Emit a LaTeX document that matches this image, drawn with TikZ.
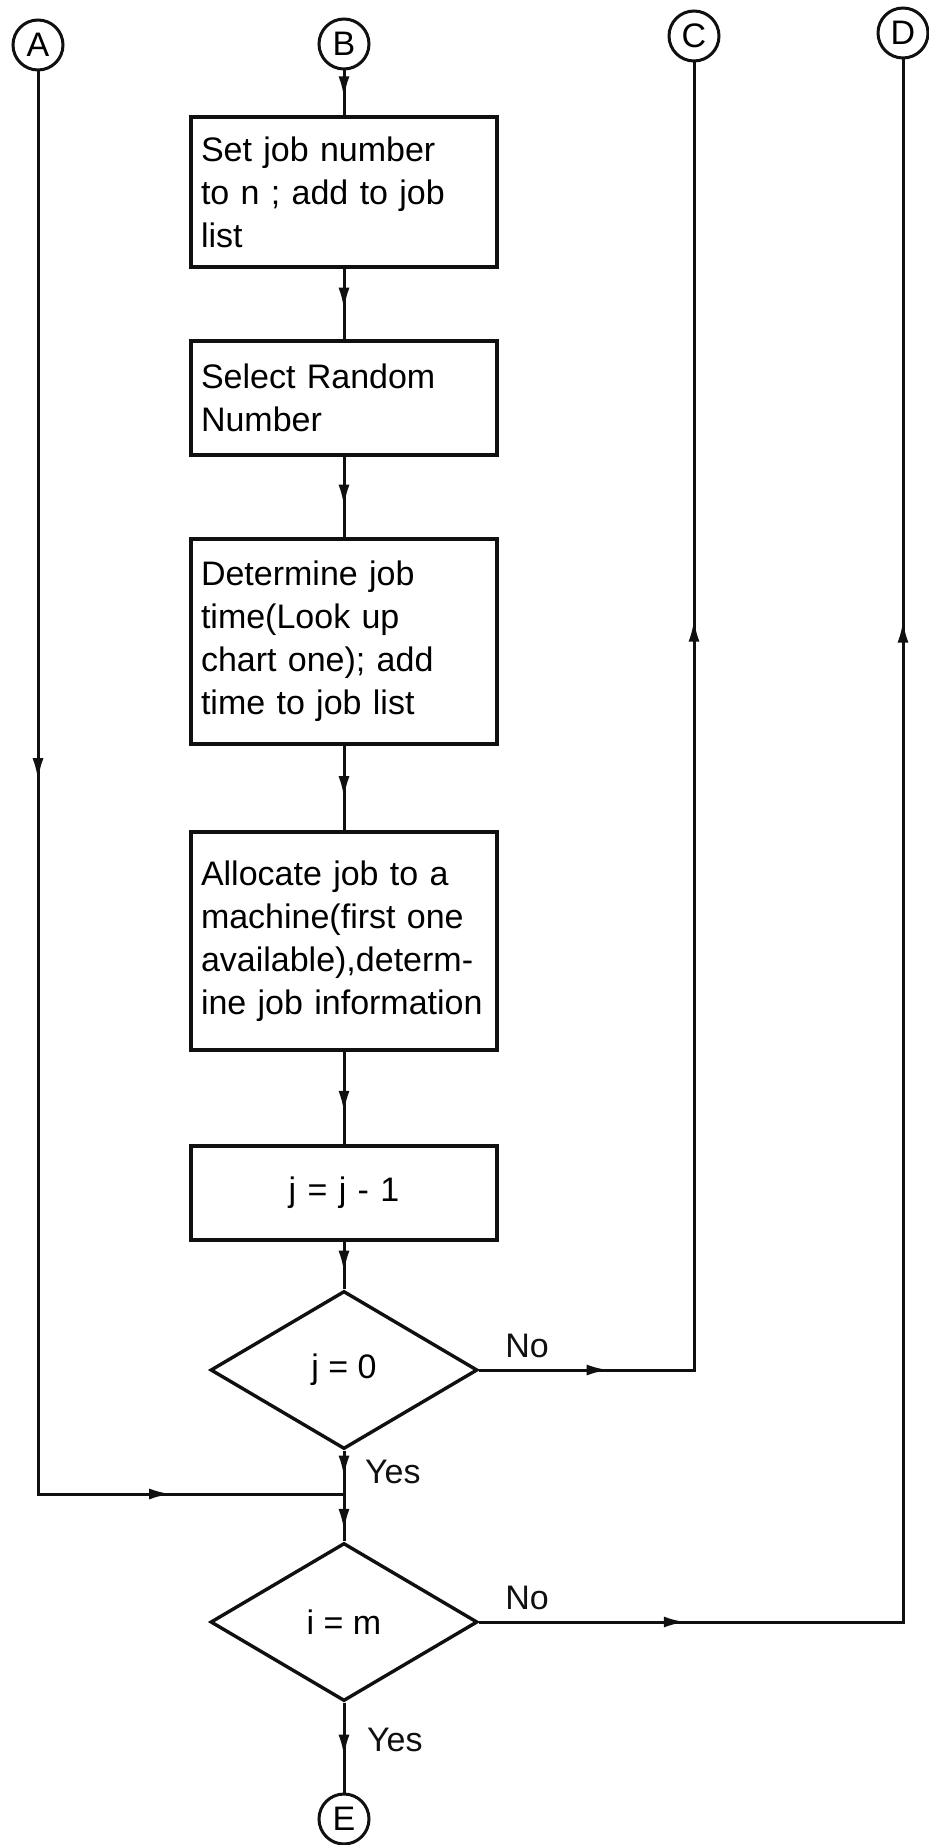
\documentclass[tikz,border=0pt]{standalone}
\usepackage{fontspec}
\setmainfont{Liberation Sans}
\usetikzlibrary{positioning,arrows.meta,shapes.geometric,decorations.markings}
\hyphenpenalty=10000
\definecolor{inkBlack}{HTML}{101010}
\tikzset{
    stepbox/.style={draw=inkBlack,line width=1.7pt,fill=white,inner xsep=5pt,
        text width=143pt,minimum width=153pt,align=left,
        font=\fontsize{17}{21.5}\selectfont},
    decision/.style={diamond,draw=inkBlack,line width=1.7pt,fill=white,inner sep=0pt,
        minimum width=133.5pt,minimum height=79pt,font=\fontsize{17}{20}\selectfont},
    connector/.style={circle,draw=inkBlack,line width=1.5pt,inner sep=0pt,
        minimum size=25pt,font=\fontsize{17}{20}\selectfont},
    flowline/.style={draw=inkBlack,line width=1.5pt},
    midarrow/.style={postaction={decorate,decoration={markings,
        mark=at position #1 with {\arrow{Latex[length=11pt,width=5.5pt]}}}}},
    branchlabel/.style={font=\fontsize{17}{20}\selectfont,text=inkBlack}
}

\begin{document}
\begin{tikzpicture}[x=0.5pt,y=-0.5pt]
        \useasboundingbox (0,0) rectangle (928,1845);
        \foreach \lbl/\x/\y in {A/38/45,B/344/44,C/694/36,D/903/33} {
            \node[connector] (\lbl) at (\x,\y) {\lbl};
        }
        \node[stepbox,minimum height=75pt] (setjob) at (344,192) {Set job number\\ to n ; add to job\\ list};
        \node[stepbox,minimum height=57pt] (random) at (344,398) {Select Random\\ Number};
        \node[stepbox,minimum height=102.5pt] (jobtime) at (344,641.5) {Determine job\\ time(Look up\\ chart one); add\\ time to job list};
        \node[stepbox,minimum height=109pt] (allocate) at (344,941) {Allocate job to a\\ machine(first one\\ available),determ-\\ ine job information};
        \node[stepbox,minimum height=47pt,align=center] (decrement) at (344,1193) {j = j - 1};
        \node[decision] (jzero) at (344,1370) {j = 0};
        \coordinate (join) at (344,1494);
        \node[decision] (imatch) at (344,1622) {i = m};
        \node[connector] (E) at (344,1819) {E};
        \node[branchlabel] (nojzero) at (527,1346) {No};
        \node[branchlabel,anchor=west] (yesjzero) at (358,1472) {Yes};
        \node[branchlabel] (noimatch) at (527,1598) {No};
        \node[branchlabel,anchor=west] (yesimatch) at (360,1740) {Yes};
        \draw[flowline,midarrow=0.62] (B) -- (setjob);
        \draw[flowline,midarrow=0.58] (setjob) -- (random);
        \draw[flowline,midarrow=0.62] (random) -- (jobtime);
        \draw[flowline,midarrow=0.62] (jobtime) -- (allocate);
        \draw[flowline,midarrow=0.66] (allocate) -- (decrement);
        \draw[flowline,midarrow=0.65] (decrement) -- (jzero);
        \draw[flowline,midarrow=0.62] (jzero) -- (join);
        \draw[flowline,midarrow=0.78] (join) -- (imatch);
        \draw[flowline,midarrow=0.6] (imatch) -- (E);
        \draw[flowline,midarrow=0.41,midarrow=0.9] (A) |- (join);
        \draw[flowline,midarrow=0.085,midarrow=0.634] (jzero) -| (C);
        \draw[flowline,midarrow=0.104,midarrow=0.7175] (imatch) -| (D);
    \end{tikzpicture}
\end{document}
